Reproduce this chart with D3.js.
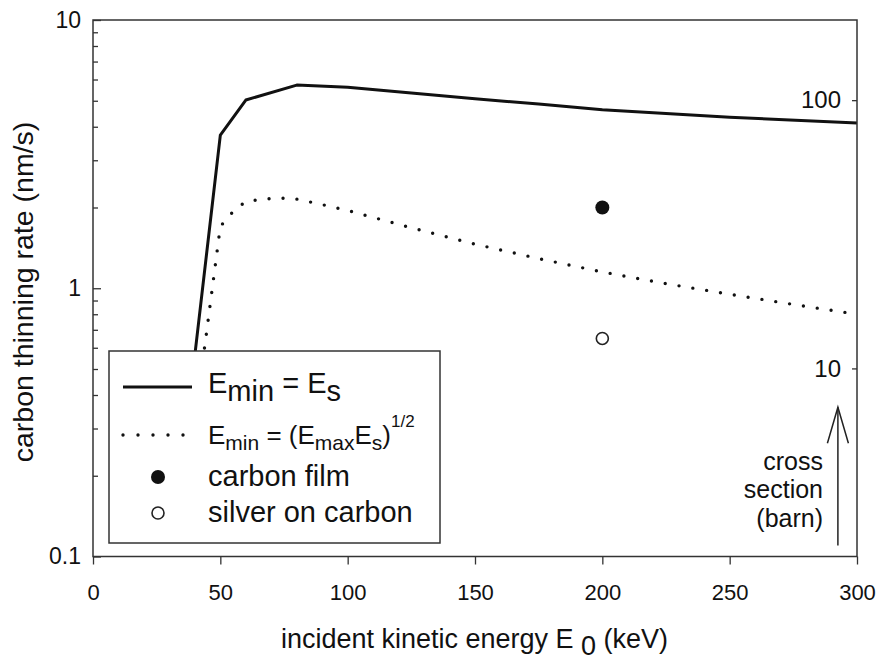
<!DOCTYPE html>
<html>
<head>
    <meta charset="UTF-8">
    <title>carbon thinning rate</title>
    <script src="https://cdn.jsdelivr.net/npm/d3@7"></script>
    <style>
        body { margin: 0; background: #fff; }
        text { font-family: "Liberation Sans", Arial, sans-serif; fill: #111; }
    </style>
</head>
<body>
<script>
    // solid curve, E_min = E_s
    var solidE    = [35, 50, 60, 80, 100, 125, 150, 175, 200, 250, 300]
    var solidRate = [0.22, 3.72, 5.03, 5.72, 5.62, 5.34, 5.09, 4.86, 4.63, 4.34, 4.13]

    // dotted curve, E_min = (E_max E_s)^1/2
    var dotE    = [40, 44, 50, 55, 60, 70, 78, 90, 100, 125, 150, 175, 200, 225, 250, 275, 300]
    var dotRate = [0.33, 0.62, 1.70, 1.93, 2.11, 2.16, 2.17, 2.05, 1.95, 1.68, 1.46, 1.29, 1.15, 1.04, 0.95, 0.87, 0.80]

    // measured points at 200 keV
    var carbonFilm = [[200, 2.0]]
    var silverOnCarbon = [[200, 0.65]]

    var xTicks = [0, 50, 100, 150, 200, 250, 300]
    var yTicks = [0.1, 1, 10]
    var yMinor = [0.2, 0.3, 0.4, 0.5, 0.6, 0.7, 0.8, 0.9, 2, 3, 4, 5, 6, 7, 8, 9]
    var crossTicks = [10, 100]

    var W = 882, H = 661
    var pl = 93, pr = 857, pt = 20, pb = 556.5

    var svg = d3.select('body').append('svg')
        .attr('width', W)
        .attr('height', H)

    var x = d3.scaleLinear().domain([0, 300]).range([pl, pr])
    var y = d3.scaleLog().domain([0.1, 10]).range([pb, pt])
    // right axis: cross section in barn, shares the decades of the left axis
    var yr = d3.scaleLog().domain([1.99, 199]).range([pb, pt])

    var line = d3.line()
        .x(function(d){ return x(d[0]) })
        .y(function(d){ return y(d[1]) })

    var solid = solidE.map(function(e, i){ return [e, solidRate[i]] })
    var dotted = dotE.map(function(e, i){ return [e, dotRate[i]] })

    svg.append('path')
        .attr('d', line(dotted))
        .attr('fill', 'none')
        .attr('stroke', '#111')
        .attr('stroke-width', 3.4)
        .attr('stroke-linecap', 'round')
        .attr('stroke-dasharray', '0 14')

    svg.append('path')
        .attr('d', line(solid))
        .attr('fill', 'none')
        .attr('stroke', '#111')
        .attr('stroke-width', 3)
        .attr('stroke-linejoin', 'round')

    svg.selectAll('.film').data(carbonFilm).enter().append('circle')
        .attr('cx', function(d){ return x(d[0]) })
        .attr('cy', function(d){ return y(d[1]) })
        .attr('r', 7)
        .attr('fill', '#111')

    svg.selectAll('.silver').data(silverOnCarbon).enter().append('circle')
        .attr('cx', function(d){ return x(d[0]) })
        .attr('cy', function(d){ return y(d[1]) })
        .attr('r', 6)
        .attr('fill', '#fff')
        .attr('stroke', '#222')
        .attr('stroke-width', 1.6)

    // frame
    svg.append('rect')
        .attr('x', pl).attr('y', pt)
        .attr('width', pr - pl).attr('height', pb - pt)
        .attr('fill', 'none')
        .attr('stroke', '#333')
        .attr('stroke-width', 1.5)

    // axes
    var xAxis = svg.append('g')
        .attr('transform', 'translate(0,' + pb + ')')
        .call(d3.axisBottom(x).tickValues(xTicks).tickSize(8).tickPadding(20).tickFormat(d3.format('d')))
    xAxis.select('.domain').remove()

    var yAxis = svg.append('g')
        .attr('transform', 'translate(' + pl + ',0)')
        .call(d3.axisLeft(y).tickValues(yTicks).tickSize(-8).tickPadding(12).tickFormat(function(d){ return String(d) }))
    yAxis.select('.domain').remove()

    var yMinorAxis = svg.append('g')
        .attr('transform', 'translate(' + pl + ',0)')
        .call(d3.axisLeft(y).tickValues(yMinor).tickSize(-5).tickFormat(''))
    yMinorAxis.select('.domain').remove()

    var rAxis = svg.append('g')
        .attr('transform', 'translate(' + pr + ',0)')
        .call(d3.axisLeft(yr).tickValues(crossTicks).tickSize(5).tickPadding(11).tickFormat(d3.format('d')))
    rAxis.select('.domain').remove()

    svg.selectAll('.tick line').attr('stroke', '#333').attr('stroke-width', 1.3)
    xAxis.selectAll('text').style('font-size', '22px').attr('fill', '#111')
    yAxis.selectAll('text').style('font-size', '23px').attr('fill', '#111')
    rAxis.selectAll('text').style('font-size', '24px').attr('fill', '#111')

    // axis titles
    var xt = svg.append('text')
        .attr('x', (pl + pr) / 2 - 0.5)
        .attr('y', 648)
        .attr('text-anchor', 'middle')
        .style('font-size', '27px')
    xt.append('tspan').text('incident kinetic energy E ')
    xt.append('tspan').attr('dy', 7).text('0')
    xt.append('tspan').attr('dy', -7).text(' (keV)')

    svg.append('text')
        .attr('transform', 'translate(33,292) rotate(-90)')
        .attr('text-anchor', 'middle')
        .style('font-size', '28.5px')
        .text('carbon thinning rate (nm/s)')

    // cross section arrow
    var ax = x(292.5)
    svg.append('line')
        .attr('x1', ax).attr('x2', ax)
        .attr('y1', y(0.11)).attr('y2', y(0.36))
        .attr('stroke', '#222').attr('stroke-width', 1.5)
    svg.append('path')
        .attr('d', 'M' + (ax - 10.5) + ',' + (y(0.36) + 36) + 'L' + ax + ',' + y(0.36) + 'L' + (ax + 10.5) + ',' + (y(0.36) + 36))
        .attr('fill', 'none').attr('stroke', '#222').attr('stroke-width', 1.5)

    var cs = svg.append('text')
        .attr('text-anchor', 'end')
        .style('font-size', '25px')
    ;['cross', 'section', '(barn)'].forEach(function(s, i){
        cs.append('tspan').attr('x', 823).attr('y', 470 + i * 28.3).text(s)
    })

    // legend
    var lg = svg.append('g')
    lg.append('rect')
        .attr('x', 109).attr('y', 351)
        .attr('width', 331).attr('height', 192)
        .attr('fill', '#fff')
        .attr('stroke', '#333')
        .attr('stroke-width', 1.5)

    lg.append('line')
        .attr('x1', 123).attr('x2', 192).attr('y1', 387).attr('y2', 387)
        .attr('stroke', '#111').attr('stroke-width', 3)
    var t1 = lg.append('text').attr('x', 208).attr('y', 393).style('font-size', '29px')
    t1.append('tspan').text('E')
    t1.append('tspan').attr('dy', 8).text('min')
    t1.append('tspan').attr('dy', -8).text(' = E')
    t1.append('tspan').attr('dy', 8).text('s')

    lg.append('line')
        .attr('x1', 123).attr('x2', 184).attr('y1', 435).attr('y2', 435)
        .attr('stroke', '#111').attr('stroke-width', 3.4)
        .attr('stroke-linecap', 'round')
        .attr('stroke-dasharray', '0 15')
    var t2 = lg.append('text').attr('x', 208).attr('y', 444).style('font-size', '26px')
    t2.append('tspan').text('E')
    t2.append('tspan').attr('dy', 6).style('font-size', '21px').text('min')
    t2.append('tspan').attr('dy', -6).text(' = (E')
    t2.append('tspan').attr('dy', 6).style('font-size', '21px').text('max')
    t2.append('tspan').attr('dy', -6).text('E')
    t2.append('tspan').attr('dy', 6).style('font-size', '21px').text('s')
    t2.append('tspan').attr('dy', -6).text(')')
    t2.append('tspan').attr('dy', -17).style('font-size', '17px').text('1/2')

    lg.append('circle').attr('cx', 158).attr('cy', 477).attr('r', 7).attr('fill', '#111')
    lg.append('text').attr('x', 208).attr('y', 486).style('font-size', '29px').text('carbon film')

    lg.append('circle').attr('cx', 158).attr('cy', 513).attr('r', 6)
        .attr('fill', '#fff').attr('stroke', '#222').attr('stroke-width', 1.6)
    lg.append('text').attr('x', 208).attr('y', 522).style('font-size', '29px').text('silver on carbon')
</script>
</body>
</html>
